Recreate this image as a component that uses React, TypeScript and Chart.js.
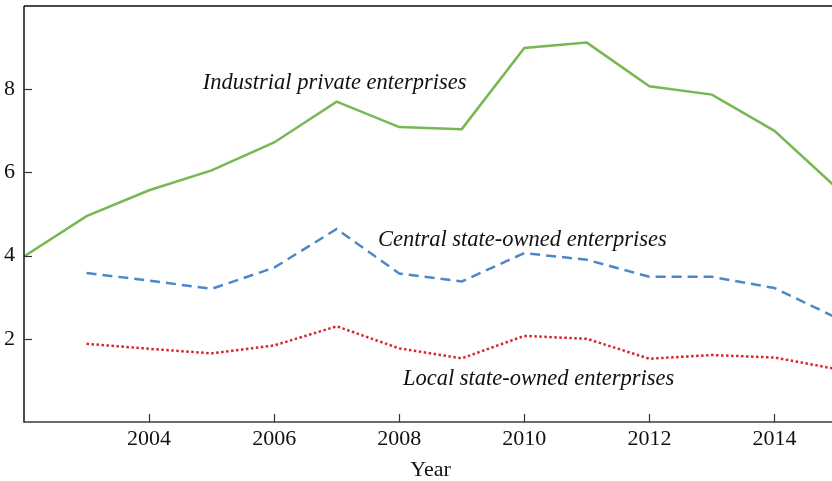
import React, { useEffect, useRef } from 'react';
import { Chart, registerables } from 'chart.js';

Chart.register(...registerables);

const years = [2002, 2003, 2004, 2005, 2006, 2007, 2008, 2009, 2010, 2011, 2012, 2013, 2014, 2015];
const industrialPrivate = [3.98, 4.95, 5.57, 6.05, 6.72, 7.70, 7.09, 7.04, 8.99, 9.12, 8.07, 7.87, 7.00, 5.62];
const centralStateOwned = [null, 3.58, 3.40, 3.20, 3.71, 4.64, 3.57, 3.38, 4.06, 3.90, 3.49, 3.49, 3.22, 2.50];
const localStateOwned = [null, 1.88, 1.76, 1.65, 1.84, 2.30, 1.77, 1.53, 2.07, 2.00, 1.52, 1.61, 1.55, 1.27];

const xTickValues = [2004, 2006, 2008, 2010, 2012, 2014];
const yTickValues = [2, 4, 6, 8];

const seriesLabels = [
  { text: 'Industrial private enterprises', x: 2004.86, y: 8.0 },
  { text: 'Central state-owned enterprises', x: 2007.66, y: 4.24 },
  { text: 'Local state-owned enterprises', x: 2008.06, y: 0.88 },
];

const FONT = '"Liberation Serif", "Times New Roman", serif';

function toPoints(values: (number | null)[]) {
  return years
    .map((yr, i) => ({ x: yr, y: values[i] }))
    .filter((p) => p.y !== null) as { x: number; y: number }[];
}

const framePlugin = {
  id: 'frameAndLabels',
  afterDraw(chart: any) {
    const { ctx, chartArea, scales } = chart;
    const { left, right, top, bottom } = chartArea;
    ctx.save();
    // top border
    ctx.strokeStyle = '#4a4a4a';
    ctx.lineWidth = 2;
    ctx.beginPath();
    ctx.moveTo(left, top);
    ctx.lineTo(right, top);
    ctx.stroke();
    // left axis
    ctx.strokeStyle = '#111';
    ctx.lineWidth = 1.5;
    ctx.beginPath();
    ctx.moveTo(left, top);
    ctx.lineTo(left, bottom + 0.75);
    ctx.stroke();
    // bottom axis
    ctx.strokeStyle = '#3a3a3a';
    ctx.lineWidth = 1.5;
    ctx.beginPath();
    ctx.moveTo(left, bottom);
    ctx.lineTo(right, bottom);
    ctx.stroke();
    // inward ticks
    ctx.strokeStyle = '#333';
    ctx.lineWidth = 1.2;
    scales.x.ticks.forEach((t: any) => {
      const px = Math.round(scales.x.getPixelForValue(t.value)) + 0.5;
      ctx.beginPath();
      ctx.moveTo(px, bottom);
      ctx.lineTo(px, bottom - 8);
      ctx.stroke();
    });
    scales.y.ticks.forEach((t: any) => {
      const py = Math.round(scales.y.getPixelForValue(t.value)) + 0.5;
      ctx.beginPath();
      ctx.moveTo(left, py);
      ctx.lineTo(left + 8, py);
      ctx.stroke();
    });
    // series labels
    ctx.fillStyle = '#111';
    ctx.font = `italic 22.5px ${FONT}`;
    ctx.textAlign = 'left';
    ctx.textBaseline = 'alphabetic';
    seriesLabels.forEach((l) => {
      ctx.fillText(l.text, scales.x.getPixelForValue(l.x), scales.y.getPixelForValue(l.y));
    });
    ctx.restore();
  },
};

export default function App() {
  const ref = useRef<HTMLCanvasElement | null>(null);

  useEffect(() => {
    if (!ref.current) return;
    const chart = new Chart(ref.current, {
      type: 'line',
      data: {
        datasets: [
          {
            label: 'Industrial private enterprises',
            data: toPoints(industrialPrivate),
            borderColor: '#76b852',
            borderWidth: 2.5,
            pointRadius: 0,
            tension: 0,
          },
          {
            label: 'Central state-owned enterprises',
            data: toPoints(centralStateOwned),
            borderColor: '#4f86c9',
            borderWidth: 2.5,
            borderDash: [10, 6],
            pointRadius: 0,
            tension: 0,
          },
          {
            label: 'Local state-owned enterprises',
            data: toPoints(localStateOwned),
            borderColor: '#d9252b',
            borderWidth: 2.5,
            borderDash: [2.5, 2.5],
            pointRadius: 0,
            tension: 0,
          },
        ],
      },
      options: {
        animation: false,
        responsive: false,
        devicePixelRatio: 1,
        layout: { padding: { top: 6, right: 3, left: 0, bottom: 0 } },
        plugins: {
          legend: { display: false },
          tooltip: { enabled: false },
        },
        scales: {
          x: {
            type: 'linear',
            min: 2002,
            max: 2015,
            grid: { display: false, drawTicks: false },
            border: { display: false },
            afterBuildTicks: (s: any) => {
              s.ticks = xTickValues.map((v) => ({ value: v }));
            },
            afterFit: (s: any) => {
              s.height = 59;
              s.paddingLeft = 0;
              s.paddingRight = 0;
            },
            ticks: {
              autoSkip: false,
              maxRotation: 0,
              padding: 4,
              color: '#111',
              font: { family: FONT, size: 22 },
              callback: (v: any) => String(v),
            },
            title: {
              display: true,
              text: 'Year',
              color: '#111',
              font: { family: FONT, size: 22, lineHeight: 1 },
              padding: { top: 0, bottom: 0 },
            },
          },
          y: {
            min: 0,
            max: 10,
            grid: { display: false, drawTicks: false },
            border: { display: false },
            afterBuildTicks: (s: any) => {
              s.ticks = yTickValues.map((v) => ({ value: v }));
            },
            afterFit: (s: any) => {
              s.width = 24;
              s.paddingTop = 0;
              s.paddingBottom = 0;
            },
            ticks: {
              padding: 9,
              color: '#111',
              font: { family: FONT, size: 22 },
              callback: (v: any) => String(v),
            },
          },
        },
      },
      plugins: [framePlugin],
    });
    return () => chart.destroy();
  }, []);

  return (
    <div style={{ position: 'absolute', left: 0, top: 0, width: 832, height: 481, overflow: 'hidden', background: '#fff' }}>
      <canvas ref={ref} width={840} height={481} style={{ display: 'block', width: 840, height: 481 }} />
    </div>
  );
}
